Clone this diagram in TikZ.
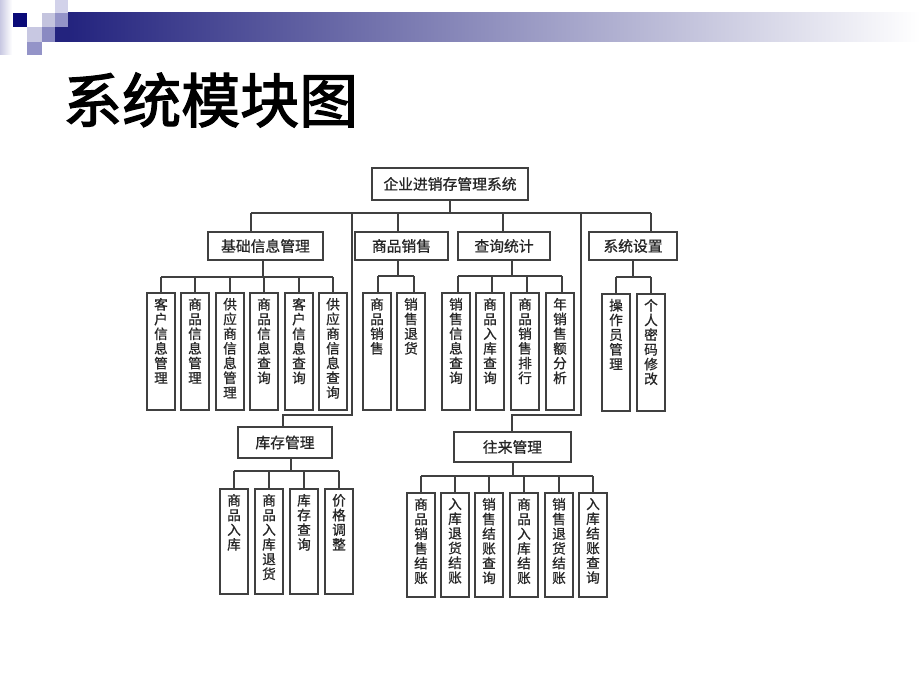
\documentclass[tikz,border=0pt]{standalone}
\usepackage{fontspec}
\setmainfont{Noto Sans CJK SC}
\newfontfamily\titlef{Noto Sans CJK SC}[FakeBold=2.2]
\newfontfamily\dfont{Noto Sans CJK SC}[FakeBold=0.8]
\usetikzlibrary{calc}
\definecolor{linec}{HTML}{404040}
\definecolor{txtc}{HTML}{262626}
\definecolor{navyq}{HTML}{0A0A78}
\definecolor{lavA}{HTML}{C8C8E2}
\definecolor{lavB}{HTML}{9494C8}
\definecolor{lavC}{HTML}{C4C4DE}
\definecolor{lavD}{HTML}{8A8AC2}
\definecolor{lavE}{HTML}{D2D2EA}
\definecolor{barL}{HTML}{23237E}
\newcommand{\vt}[2]{\parbox[t][#1][t]{20pt}{\centering\dfont\fontsize{13.6}{14.7}\selectfont #2}}
\begin{document}
\begin{tikzpicture}[x=1pt,y=-1pt,
  ln/.style={draw=linec,line width=2pt},
  hb/.style={draw=linec,line width=2pt,fill=white,inner sep=0pt,text=txtc,font=\dfont\fontsize{14.8}{16}\selectfont},
  vb/.style={draw=linec,line width=2pt,fill=white,inner xsep=0pt,inner ysep=5pt,minimum width=28pt,anchor=north,text=txtc}]
\useasboundingbox (0,0) rectangle (920,690);
\fill[white] (0,0) rectangle (920,690);
% decoration
\shade[left color=lavA,right color=white] (0,0) rectangle (12,55);
\fill[navyq] (13,13) rectangle (27,27);
\fill[lavA] (27,27) rectangle (42,42);
\fill[lavB] (27,42) rectangle (42,55);
\fill[lavC] (42,13) rectangle (55,27);
\fill[lavD] (42,27) rectangle (55,42);
\fill[lavE] (55,0) rectangle (68,13);
\fill[lavB] (55,13) rectangle (68,27);
\fill[barL] (55,27) rectangle (68.5,42);
\shade[left color=barL,right color=white] (68,13) rectangle (920,42);
% title
\node[font=\titlef\fontsize{59}{61}\selectfont,inner sep=0pt,anchor=west] (title) at (63,100) {系统模块图};
% level 1 and 2
\node[hb,minimum width=156pt,minimum height=32pt] (top) at (450,184) {企业进销存管理系统};
\node[hb,minimum width=115pt,minimum height=28pt] (ji) at (265.5,246) {基础信息管理};
\node[hb,minimum width=93pt,minimum height=28pt] (sp) at (401.5,246) {商品销售};
\node[hb,minimum width=92pt,minimum height=28pt] (cx) at (504,246) {查询统计};
\node[hb,minimum width=88pt,minimum height=28pt] (xt) at (633,246) {系统设置};
\node[hb,minimum width=94pt,minimum height=31pt] (kc) at (285,442.5) {库存管理};
\node[hb,minimum width=117pt,minimum height=30pt] (wl) at (512.5,447) {往来管理};
% level 3 boxes
\node[vb] (a1) at (161,292) {\vt{107pt}{客\\户\\信\\息\\管\\理}};
\node[vb] (a2) at (195,292) {\vt{107pt}{商\\品\\信\\息\\管\\理}};
\node[vb] (a3) at (230,292) {\vt{107pt}{供\\应\\商\\信\\息\\管\\理}};
\node[vb] (a4) at (264,292) {\vt{107pt}{商\\品\\信\\息\\查\\询}};
\node[vb] (a5) at (299,292) {\vt{107pt}{客\\户\\信\\息\\查\\询}};
\node[vb] (a6) at (333,292) {\vt{107pt}{供\\应\\商\\信\\息\\查\\询}};
\node[vb] (s1) at (377,292) {\vt{107pt}{商\\品\\销\\售}};
\node[vb] (s2) at (411,292) {\vt{107pt}{销\\售\\退\\货}};
\node[vb] (c1) at (456,292) {\vt{107pt}{销\\售\\信\\息\\查\\询}};
\node[vb] (c2) at (490,292) {\vt{107pt}{商\\品\\入\\库\\查\\询}};
\node[vb] (c3) at (525,292) {\vt{107pt}{商\\品\\销\\售\\排\\行}};
\node[vb] (c4) at (560,292) {\vt{107pt}{年\\销\\售\\额\\分\\析}};
\node[vb] (x1) at (616,293) {\vt{107pt}{操\\作\\员\\管\\理}};
\node[vb] (x2) at (651,293) {\vt{107pt}{个\\人\\密\\码\\修\\改}};
\node[vb] (k1) at (234,488) {\vt{95pt}{商\\品\\入\\库}};
\node[vb] (k2) at (269,488) {\vt{95pt}{商\\品\\入\\库\\退\\货}};
\node[vb] (k3) at (304,488) {\vt{95pt}{库\\存\\查\\询}};
\node[vb] (k4) at (339,488) {\vt{95pt}{价\\格\\调\\整}};
\node[vb] (w1) at (421,492) {\vt{94pt}{商\\品\\销\\售\\结\\账}};
\node[vb] (w2) at (455,492) {\vt{94pt}{入\\库\\退\\货\\结\\账}};
\node[vb] (w3) at (489,492) {\vt{94pt}{销\\售\\结\\账\\查\\询}};
\node[vb] (w4) at (524,492) {\vt{94pt}{商\\品\\入\\库\\结\\账}};
\node[vb] (w5) at (559,492) {\vt{94pt}{销\\售\\退\\货\\结\\账}};
\node[vb] (w6) at (593,492) {\vt{94pt}{入\\库\\结\\账\\查\\询}};
% main bus
\coordinate (bL) at (251,213);
\coordinate (bR) at (651,213);
\coordinate (b2) at (352,213);
\coordinate (b3) at (398,213);
\coordinate (b4) at (503,213);
\coordinate (b5) at (581,213);
\coordinate (t2) at (352,415);
\coordinate (u2) at (283,415);
\coordinate (t5) at (581,415);
\coordinate (u5) at (512,415);
\draw[ln] (bL) -- (bR);
\draw[ln] (top.south) -- (top.south |- bL);
\draw[ln] (bL) -- (bL |- ji.north);
\draw[ln] (b3) -- (b3 |- sp.north);
\draw[ln] (b4) -- (b4 |- cx.north);
\draw[ln] (bR) -- (bR |- xt.north);
\draw[ln,line join=miter] (b2) -- (t2) -- (u2) -- (u2 |- kc.north);
\draw[ln,line join=miter] (b5) -- (t5) -- (u5) -- (u5 |- wl.north);
% basic info group
\coordinate (ja) at (161,277);
\coordinate (jb) at (333,277);
\coordinate (jd) at (263,277);
\draw[ln] (ja) -- (jb);
\draw[ln] (jd |- ji.south) -- (jd);
\foreach \n in {a1,a2,a3,a4,a5,a6} \draw[ln] (\n.north |- ja) -- (\n.north);
% sales group
\coordinate (sa) at (378,276);
\coordinate (sb) at (414,276);
\coordinate (sd) at (398,276);
\draw[ln] (sa) -- (sb);
\draw[ln] (sd |- sp.south) -- (sd);
\draw[ln] (sa) -- (sa |- s1.north);
\draw[ln] (sb) -- (sb |- s2.north);
% query group
\coordinate (ca) at (458,276);
\coordinate (cb) at (562,276);
\coordinate (cd) at (512,276);
\draw[ln] (ca) -- (cb);
\draw[ln] (cd |- cx.south) -- (cd);
\foreach \n in {c1,c2,c3,c4} \draw[ln] ($(\n.north |- ca)+(2,0)$) -- ($(\n.north)+(2,0)$);
% settings group
\coordinate (xa) at (616,277);
\coordinate (xb) at (651,277);
\draw[ln] (xa) -- (xb);
\draw[ln] (xt.south) -- (xt.south |- xa);
\draw[ln] (xa) -- (x1.north);
\draw[ln] (xb) -- (x2.north);
% stock group
\coordinate (ka) at (234,471);
\coordinate (kb) at (339,471);
\coordinate (kd) at (291,471);
\draw[ln] (ka) -- (kb);
\draw[ln] (kd |- kc.south) -- (kd);
\foreach \n in {k1,k2,k3,k4} \draw[ln] (\n.north |- ka) -- (\n.north);
% accounts group
\coordinate (wa) at (421,476);
\coordinate (wb) at (593,476);
\draw[ln] (wa) -- (wb);
\draw[ln] (wl.south) -- (wl.south |- wa);
\foreach \n in {w1,w2,w3,w4,w5,w6} \draw[ln] (\n.north |- wa) -- (\n.north);
\end{tikzpicture}
\end{document}
